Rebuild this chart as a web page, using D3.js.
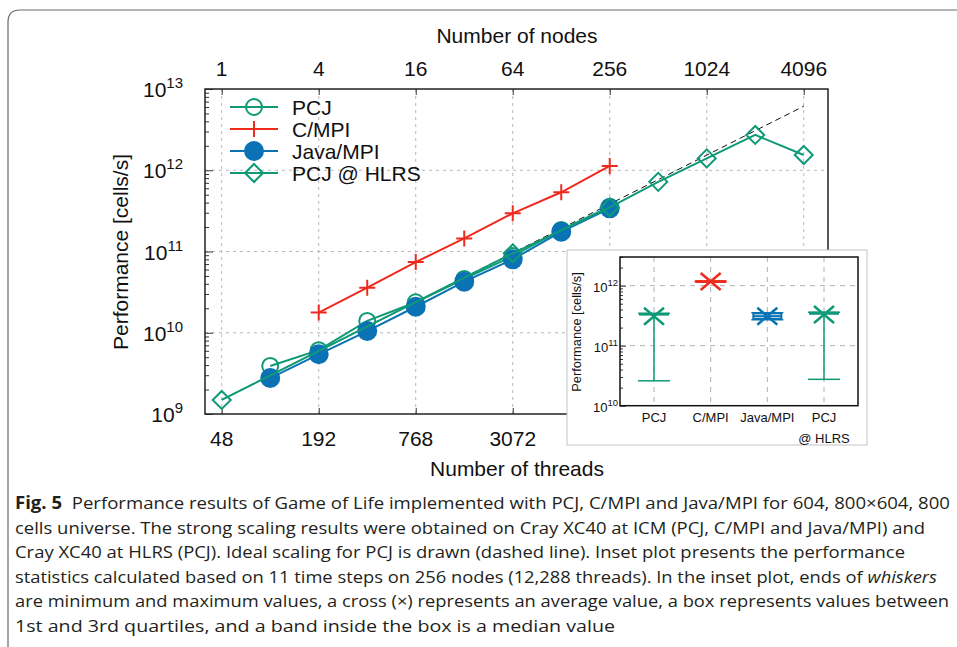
<!DOCTYPE html>
<html><head><meta charset="utf-8">
<script src="https://cdn.jsdelivr.net/npm/d3@7"></script>
<style>
html,body{margin:0;padding:0;background:#fff;}
svg{display:block;}
</style></head>
<body>
<svg id="chart" width="957" height="647"></svg>
<script>
// ---------- DATA ----------
const threadsPerNode = 48;
const nodeTicks = [1, 4, 16, 64, 256, 1024, 4096];
const threadTicks = [48, 192, 768, 3072, 12288, 49152, 196608];
const threadTickLabels = [48, 192, 768, 3072];   // the others lie under the inset
const yTicks = [1e9, 1e10, 1e11, 1e12, 1e13];

const pcjNodes = [2, 4, 8, 16, 32, 64, 128, 256];
const pcjValues = [3.9e9, 6.1e9, 1.4e10, 2.37e10, 4.6e10, 8.8e10, 1.84e11, 3.56e11];

const cmpiNodes = [4, 8, 16, 32, 64, 128, 256];
const cmpiValues = [1.77e10, 3.59e10, 7.4e10, 1.45e11, 2.95e11, 5.36e11, 1.13e12];

const javaNodes = [2, 4, 8, 16, 32, 64, 128, 256];
const javaValues = [2.77e9, 5.43e9, 1.05e10, 2.09e10, 4.25e10, 8.0e10, 1.75e11, 3.4e11];

const hlrsNodes = [1, 64, 256, 512, 1024, 2048, 4096];
const hlrsValues = [1.49e9, 9.5e10, 3.5e11, 7.2e11, 1.4e12, 2.72e12, 1.54e12];

const idealNodes = [1, 4096];
const idealValues = [1.5e9, 6.14e12];

const legendLabels = ["PCJ", "C/MPI", "Java/MPI", "PCJ @ HLRS"];

// inset (box statistics at 256 nodes)
const insetCats = ["PCJ", "C/MPI", "Java/MPI", "PCJ"];
const insetMin  = [2.6e10, 1.15e12, 2.7e11, 2.75e10];
const insetQ1   = [3.3e11, 1.16e12, 2.8e11, 3.4e11];
const insetMed  = [3.35e11, 1.17e12, 3.1e11, 3.5e11];
const insetQ3   = [3.4e11, 1.18e12, 3.45e11, 3.55e11];
const insetMax  = [3.45e11, 1.19e12, 3.55e11, 3.6e11];
const insetMean = [3.1e11, 1.17e12, 3.1e11, 3.3e11];
const insetYTicks = [1e10, 1e11, 1e12];

const captionLines = [
  [{t:"Fig. 5", b:true}, {t:"  Performance results of Game of Life implemented with PCJ, C/MPI and Java/MPI for 604, 800\u00d7604, 800"}],
  [{t:"cells universe. The strong scaling results were obtained on Cray XC40 at ICM (PCJ, C/MPI and Java/MPI) and"}],
  [{t:"Cray XC40 at HLRS (PCJ). Ideal scaling for PCJ is drawn (dashed line). Inset plot presents the performance"}],
  [{t:"statistics calculated based on 11 time steps on 256 nodes (12,288 threads). In the inset plot, ends of "}, {t:"whiskers", i:true}],
  [{t:"are minimum and maximum values, a cross (\u00d7) represents an average value, a box represents values between"}],
  [{t:"1st and 3rd quartiles, and a band inside the box is a median value"}]
];

// ---------- STYLE ----------
const GREEN = "#0f9a77", RED = "#ee2a1e", BLUE = "#0a72b5";
const FONT = "'Liberation Sans', Arial, Helvetica, sans-serif";

const svg = d3.select("#chart");

// outer frame
svg.append("path").attr("d", "M8,647 L8,22 Q8,10 20,10 L957,10")
  .attr("fill", "none").attr("stroke", "#6a6a6a").attr("stroke-width", 1.2);

// ---------- MAIN PLOT ----------
const L = 205, R = 828, T = 89, B = 414;
const x = d3.scaleLog().base(2).domain([37.8, 278000]).range([L, R]);
const y = d3.scaleLog().domain([1e9, 1e13]).range([B, T]);

const g = svg.append("g");

// grid
g.selectAll(".vg").data(nodeTicks).enter().append("line")
  .attr("x1", d => x(d * threadsPerNode)).attr("x2", d => x(d * threadsPerNode))
  .attr("y1", T).attr("y2", B)
  .attr("stroke", "#b8b8b8").attr("stroke-width", 1).attr("stroke-dasharray", "3,4");
g.selectAll(".hg").data(yTicks.slice(1, -1)).enter().append("line")
  .attr("x1", L).attr("x2", R).attr("y1", d => y(d)).attr("y2", d => y(d))
  .attr("stroke", "#b8b8b8").attr("stroke-width", 1).attr("stroke-dasharray", "3,4");

// axes ticks via d3 axes
const minorY = [];
for (let e = 9; e < 13; e++) for (let m = 2; m <= 9; m++) minorY.push(m * Math.pow(10, e));
g.append("g").attr("transform", `translate(${L},0)`)
  .call(d3.axisRight(y).tickValues(yTicks).tickSize(8).tickFormat(""))
  .call(a => a.select(".domain").remove())
  .call(a => a.selectAll("line").attr("stroke", "#333").attr("stroke-width", 1));
g.append("g").attr("transform", `translate(${L},0)`)
  .call(d3.axisRight(y).tickValues(minorY).tickSize(4).tickFormat(""))
  .call(a => a.select(".domain").remove())
  .call(a => a.selectAll("line").attr("stroke", "#333").attr("stroke-width", 1));
g.append("g").attr("transform", `translate(0,${B})`)
  .call(d3.axisTop(x).tickValues(threadTicks).tickSize(6).tickFormat(""))
  .call(a => a.select(".domain").remove())
  .call(a => a.selectAll("line").attr("stroke", "#333"));
g.append("g").attr("transform", `translate(0,${T})`)
  .call(d3.axisBottom(x).tickValues(nodeTicks.map(n => n * threadsPerNode)).tickSize(6).tickFormat(""))
  .call(a => a.select(".domain").remove())
  .call(a => a.selectAll("line").attr("stroke", "#333"));

// frame
g.append("rect").attr("x", L).attr("y", T).attr("width", R - L).attr("height", B - T)
  .attr("fill", "none").attr("stroke", "#222").attr("stroke-width", 1.5);

// tick labels
const yl = g.selectAll(".ylab").data(yTicks).enter().append("text")
  .attr("x", 183).attr("y", d => y(d) + 8)
  .attr("text-anchor", "end").attr("font-family", FONT).attr("font-size", 21).attr("fill", "#111");
yl.append("tspan").text("10");
yl.append("tspan").attr("dy", -9).attr("font-size", 15).text(d => Math.round(Math.log10(d)));

g.selectAll(".toplab").data(nodeTicks).enter().append("text")
  .attr("x", d => x(d * threadsPerNode)).attr("y", 75.5)
  .attr("text-anchor", "middle").attr("font-family", FONT).attr("font-size", 21).attr("fill", "#111")
  .text(d => d);
g.selectAll(".botlab").data(threadTickLabels).enter().append("text")
  .attr("x", d => x(d)).attr("y", 445.5)
  .attr("text-anchor", "middle").attr("font-family", FONT).attr("font-size", 21).attr("fill", "#111")
  .text(d => d);

g.append("text").attr("x", 517).attr("y", 42.5).attr("text-anchor", "middle")
  .attr("font-family", FONT).attr("font-size", 21).attr("fill", "#111").text("Number of nodes");
g.append("text").attr("x", 517).attr("y", 475.5).attr("text-anchor", "middle")
  .attr("font-family", FONT).attr("font-size", 21).attr("fill", "#111").text("Number of threads");
g.append("text").attr("transform", "translate(121,252) rotate(-90)").attr("dy", "0.35em")
  .attr("text-anchor", "middle").attr("font-family", FONT).attr("font-size", 21).attr("fill", "#111")
  .text("Performance [cells/s]");

// ideal line
const line = d3.line().x(d => x(d[0] * threadsPerNode)).y(d => y(d[1]));
g.append("path").attr("d", line(d3.zip(idealNodes, idealValues)))
  .attr("fill", "none").attr("stroke", "#111").attr("stroke-width", 1).attr("stroke-dasharray", "6,4");

// marker drawers
function drawCircle(sel, cx, cy, color, filled) {
  sel.append("circle").attr("cx", cx).attr("cy", cy).attr("r", filled ? 9 : 8)
    .attr("fill", filled ? color : "none").attr("stroke", color).attr("stroke-width", 2);
}
function drawPlus(sel, cx, cy, color) {
  sel.append("path").attr("d", `M${cx-8},${cy}H${cx+8}M${cx},${cy-8}V${cy+8}`)
    .attr("stroke", color).attr("stroke-width", 2).attr("fill", "none");
}
function drawDiamond(sel, cx, cy, color) {
  const s = 9;
  sel.append("path").attr("d", `M${cx},${cy-s}L${cx+s},${cy}L${cx},${cy+s}L${cx-s},${cy}Z`)
    .attr("stroke", color).attr("stroke-width", 2).attr("fill", "none");
}

const series = [
  {nodes: pcjNodes, vals: pcjValues, color: GREEN, mk: "circle"},
  {nodes: cmpiNodes, vals: cmpiValues, color: RED, mk: "plus"},
  {nodes: javaNodes, vals: javaValues, color: BLUE, mk: "fcircle"},
  {nodes: hlrsNodes, vals: hlrsValues, color: GREEN, mk: "diamond"}
];
function drawMarker(sel, mk, cx, cy, color) {
  if (mk === "circle") drawCircle(sel, cx, cy, color, false);
  else if (mk === "fcircle") drawCircle(sel, cx, cy, color, true);
  else if (mk === "plus") drawPlus(sel, cx, cy, color);
  else drawDiamond(sel, cx, cy, color);
}
series.forEach(s => {
  const sg = g.append("g");
  const pts = d3.zip(s.nodes, s.vals);
  sg.append("path").attr("d", line(pts)).attr("fill", "none")
    .attr("stroke", s.color).attr("stroke-width", 2);
  pts.forEach(p => drawMarker(sg, s.mk, x(p[0] * threadsPerNode), y(p[1]), s.color));
});

// legend
const lg = g.append("g");
series.forEach((s, i) => {
  const ly = 107 + 22 * i;
  lg.append("line").attr("x1", 230).attr("x2", 278).attr("y1", ly).attr("y2", ly)
    .attr("stroke", s.color).attr("stroke-width", 2);
  drawMarker(lg, s.mk, 254, ly, s.color);
  lg.append("text").attr("x", 292).attr("y", ly + 7.5).attr("font-family", FONT)
    .attr("font-size", 21).attr("fill", "#111").text(legendLabels[i]);
});

// ---------- INSET ----------
svg.append("rect").attr("x", 567).attr("y", 250).attr("width", 300).attr("height", 195)
  .attr("fill", "#fff").attr("stroke", "#c4c4c4").attr("stroke-width", 1);

const iL = 620, iR = 858, iT = 257, iB = 405.7;
const ix = d3.scaleLinear().domain([0.4, 4.6]).range([iL, iR]);
const iy = d3.scaleLog().domain([1e10, 3e12]).range([iB, iT]);
const ig = svg.append("g");
const idx = insetCats.map((c, i) => i + 1);

ig.selectAll(".ivg").data(idx).enter().append("line")
  .attr("x1", d => ix(d)).attr("x2", d => ix(d)).attr("y1", iT).attr("y2", iB)
  .attr("stroke", "#b0b0b0").attr("stroke-dasharray", "5,5");
ig.selectAll(".ihg").data([1e11, 1e12]).enter().append("line")
  .attr("x1", iL).attr("x2", iR).attr("y1", d => iy(d)).attr("y2", d => iy(d))
  .attr("stroke", "#b0b0b0").attr("stroke-dasharray", "5,5");

const iMinor = [];
for (let e = 10; e < 13; e++) for (let m = 2; m <= 9; m++) { const v = m * Math.pow(10, e); if (v <= 3e12) iMinor.push(v); }
ig.append("g").attr("transform", `translate(${iL},0)`)
  .call(d3.axisRight(iy).tickValues(insetYTicks).tickSize(6).tickFormat(""))
  .call(a => a.select(".domain").remove())
  .call(a => a.selectAll("line").attr("stroke", "#333"));
ig.append("g").attr("transform", `translate(${iL},0)`)
  .call(d3.axisRight(iy).tickValues(iMinor).tickSize(3).tickFormat(""))
  .call(a => a.select(".domain").remove())
  .call(a => a.selectAll("line").attr("stroke", "#333"));

ig.append("rect").attr("x", iL).attr("y", iT).attr("width", iR - iL).attr("height", iB - iT)
  .attr("fill", "none").attr("stroke", "#111").attr("stroke-width", 1.5);

const iyl = ig.selectAll(".iylab").data(insetYTicks).enter().append("text")
  .attr("x", 618).attr("y", d => iy(d) + 6).attr("text-anchor", "end")
  .attr("font-family", FONT).attr("font-size", 13).attr("fill", "#111");
iyl.append("tspan").text("10");
iyl.append("tspan").attr("dy", -6).attr("font-size", 9.5).text(d => Math.round(Math.log10(d)));

ig.selectAll(".ixlab").data(insetCats).enter().append("text")
  .attr("x", (d, i) => ix(i + 1)).attr("y", 422).attr("text-anchor", "middle")
  .attr("font-family", FONT).attr("font-size", 13).attr("fill", "#111").text(d => d);
ig.append("text").attr("x", ix(4)).attr("y", 443).attr("text-anchor", "middle")
  .attr("font-family", FONT).attr("font-size", 13).attr("fill", "#111").text("@ HLRS");
ig.append("text").attr("transform", "translate(577,332) rotate(-90)").attr("dy", "0.35em")
  .attr("text-anchor", "middle").attr("font-family", FONT).attr("font-size", 12.8).attr("fill", "#111")
  .text("Performance [cells/s]");

const insetColors = [GREEN, RED, BLUE, GREEN];
insetCats.forEach((c, i) => {
  const cx = ix(i + 1), col = insetColors[i];
  const bg = ig.append("g");
  // whisker
  bg.append("line").attr("x1", cx).attr("x2", cx).attr("y1", iy(insetMin[i])).attr("y2", iy(insetMax[i]))
    .attr("stroke", col).attr("stroke-width", 1.5);
  [insetMin[i], insetMax[i]].forEach(v => bg.append("line")
    .attr("x1", cx - 16).attr("x2", cx + 16).attr("y1", iy(v)).attr("y2", iy(v))
    .attr("stroke", col).attr("stroke-width", 1.5));
  // box
  bg.append("rect").attr("x", cx - 14).attr("width", 28)
    .attr("y", iy(insetQ3[i])).attr("height", Math.max(0.5, iy(insetQ1[i]) - iy(insetQ3[i])))
    .attr("fill", "#fff").attr("stroke", col).attr("stroke-width", 2);
  bg.append("line").attr("x1", cx - 14).attr("x2", cx + 14).attr("y1", iy(insetMed[i])).attr("y2", iy(insetMed[i]))
    .attr("stroke", col).attr("stroke-width", 2);
  // mean cross
  const my = iy(insetMean[i]);
  bg.append("path").attr("d", `M${cx-10},${my-8.5}L${cx+10},${my+8.5}M${cx-10},${my+8.5}L${cx+10},${my-8.5}`)
    .attr("stroke", col).attr("stroke-width", 2.5).attr("fill", "none");
});

// ---------- CAPTION ----------
const capFont = "'Open Sans', 'Noto Sans', sans-serif";
const capY = [503, 527.5, 552, 576.5, 601, 625.5];
const capEnd = [950, 925, 905, 937, 949, 615];
captionLines.forEach((parts, li) => {
  const t = svg.append("text").attr("x", 15).attr("y", capY[li] + 6)
    .attr("font-family", capFont).attr("font-size", 17).attr("fill", "#231f20")
    .attr("textLength", capEnd[li] - 15).attr("lengthAdjust", "spacingAndGlyphs")
    .attr("xml:space", "preserve").style("white-space", "pre");
  parts.forEach(p => {
    const ts = t.append("tspan").text(p.t);
    if (p.b) ts.attr("font-weight", "bold");
    if (p.i) ts.attr("font-style", "italic");
  });
});
</script>
</body></html>
